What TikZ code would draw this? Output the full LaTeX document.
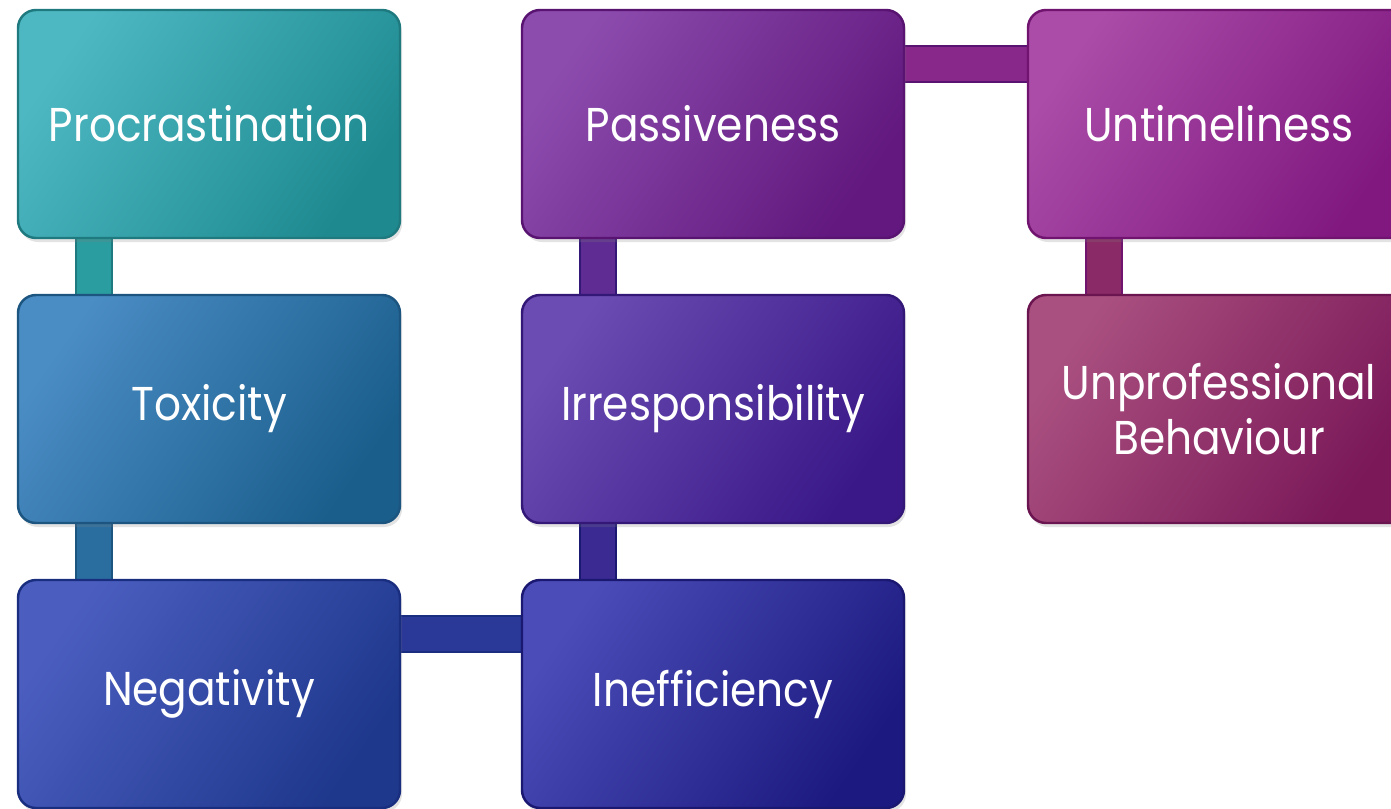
\documentclass[tikz,border=0pt]{standalone}
\usepackage{fontspec}
\setmainfont{Poppins}[FakeStretch=0.89]
\usetikzlibrary{shadows,calc}
\pgfdeclarelayer{background}
\pgfsetlayers{background,main}
\definecolor{procL}{HTML}{4DB8C2}\definecolor{procD}{HTML}{1E8A90}\definecolor{procB}{HTML}{1F7A80}
\definecolor{toxL}{HTML}{4A8CC4}\definecolor{toxD}{HTML}{1A5E8C}\definecolor{toxB}{HTML}{1C5580}
\definecolor{negL}{HTML}{4B5EC0}\definecolor{negD}{HTML}{1E388C}\definecolor{negB}{HTML}{1A2E80}
\definecolor{ineL}{HTML}{4B4CB8}\definecolor{ineD}{HTML}{1C1A80}\definecolor{ineB}{HTML}{1A1870}
\definecolor{irrL}{HTML}{6A4CB2}\definecolor{irrD}{HTML}{3A1888}\definecolor{irrB}{HTML}{341878}
\definecolor{pasL}{HTML}{8C4CAE}\definecolor{pasD}{HTML}{62187E}\definecolor{pasB}{HTML}{581470}
\definecolor{untL}{HTML}{AA4CA8}\definecolor{untD}{HTML}{801880}\definecolor{untB}{HTML}{701470}
\definecolor{unpL}{HTML}{AA5080}\definecolor{unpD}{HTML}{7A1858}\definecolor{unpB}{HTML}{6A1450}
\definecolor{barA}{HTML}{2A9DA0}\definecolor{barB}{HTML}{2A6EA0}\definecolor{barC}{HTML}{2A3898}
\definecolor{barD}{HTML}{3A2A92}\definecolor{barE}{HTML}{5E2C92}\definecolor{barF}{HTML}{88288A}
\definecolor{barG}{HTML}{8A2A66}
\begin{document}
\begin{tikzpicture}[
  box/.style n args={3}{rectangle, rounded corners=0.18cm, minimum width=3.82cm,
    text width=3.6cm, inner sep=0pt,
    minimum height=2.28cm, draw=#3, line width=0.7pt, text=white, align=center,
    font=\fontsize{13.5}{15.6}\selectfont,
    top color=#1, bottom color=#2, shading angle=55,
    drop shadow={shadow xshift=0.02cm, shadow yshift=-0.04cm, opacity=0.22}},
  bar/.style 2 args={draw=#2, line width=0.6pt, double=#1, double distance=0.34cm}
]
\useasboundingbox (0,0) rectangle (13.91,-8.08);
\begin{pgfonlayer}{background}
\fill[white] (0,0) rectangle (13.91,-8.08);
\end{pgfonlayer}

\node[box={procL}{procD}{procB}] (proc) at (2.09,-1.24) {Procrastination};
\node[box={toxL}{toxD}{toxB}] (tox) at (2.09,-4.09) {Toxicity};
\node[box={negL}{negD}{negB}] (neg) at (2.09,-6.94) {Negativity};
\node[box={ineL}{ineD}{ineB}] (ine) at (7.13,-6.94) {Inefficiency};
\node[box={irrL}{irrD}{irrB}] (irr) at (7.13,-4.09) {Irresponsibility};
\node[box={pasL}{pasD}{pasB}] (pas) at (7.13,-1.24) {Passiveness};
\node[box={untL}{untD}{untB}] (unt) at (12.19,-1.24) {Untimeliness};
\node[box={unpL}{unpD}{unpB}] (unp) at (12.19,-4.09) {Unprofessional\\Behaviour};

\begin{pgfonlayer}{background}
\draw[bar={barA}{procB}] ($(proc.south west)+(0.77,0.05)$) -- ($(tox.north west)+(0.77,-0.05)$);
\draw[bar={barB}{toxB}] ($(tox.south west)+(0.77,0.05)$) -- ($(neg.north west)+(0.77,-0.05)$);
\draw[bar={barC}{negB}] ($(neg.north east)+(-0.05,-0.55)$) -- ($(ine.north west)+(0.05,-0.55)$);
\draw[bar={barD}{ineB}] ($(ine.north west)+(0.77,-0.05)$) -- ($(irr.south west)+(0.77,0.05)$);
\draw[bar={barE}{irrB}] ($(irr.north west)+(0.77,-0.05)$) -- ($(pas.south west)+(0.77,0.05)$);
\draw[bar={barF}{pasB}] ($(pas.north east)+(-0.05,-0.55)$) -- ($(unt.north west)+(0.05,-0.55)$);
\draw[bar={barG}{untB}] ($(unt.south west)+(0.77,0.05)$) -- ($(unp.north west)+(0.77,-0.05)$);
\end{pgfonlayer}
\end{tikzpicture}
\end{document}
